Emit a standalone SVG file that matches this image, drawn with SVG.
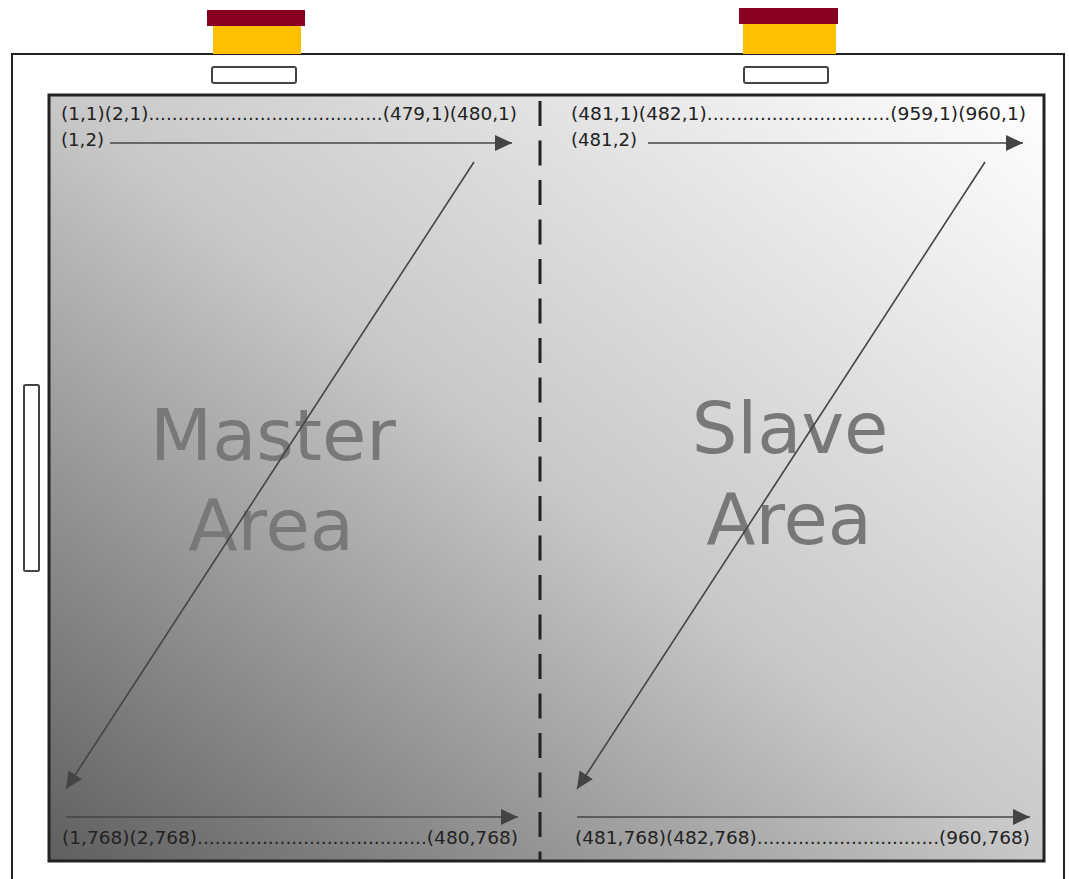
<svg xmlns="http://www.w3.org/2000/svg" width="1069" height="879" viewBox="0 0 1069 879">
<style>
.frame{fill:#ffffff;stroke:#222222;stroke-width:2}
.slot{fill:#ffffff;stroke:#444444;stroke-width:2}
.cap{fill:#880020}
.base{fill:#ffc000}
.lbl{font-family:"DejaVu Sans","Liberation Sans",sans-serif;font-size:17px;fill:#222222}
.big{font-family:"DejaVu Sans","Liberation Sans",sans-serif;font-size:72px;fill:#787878;text-anchor:middle}
.arr{stroke:#444444;stroke-width:1.6;fill:none;marker-end:url(#ah)}
</style>
<defs>
<linearGradient id="g" x1="0" y1="1" x2="1" y2="0">
<stop offset="0" stop-color="#5f5f5f"/>
<stop offset="0.5" stop-color="#c8c8c8"/>
<stop offset="1" stop-color="#ffffff"/>
</linearGradient>
<marker id="ah" markerUnits="userSpaceOnUse" markerWidth="18" markerHeight="16" viewBox="0 0 18 16" refX="17" refY="8" orient="auto">
<path d="M0,0 L17,8 L0,16 Z" fill="#444444"/>
</marker>
</defs>
<g id="device">
<rect class="frame" x="12" y="54" width="1052" height="900"/>
<rect class="slot" x="24" y="385" width="15" height="186" rx="1.5"/>
</g>
<g id="connector-left">
<rect class="cap" x="207" y="10" width="98" height="16"/>
<rect class="base" x="213" y="26" width="88" height="28"/>
<rect class="slot" x="212" y="67" width="84" height="16" rx="2"/>
</g>
<g id="connector-right">
<rect class="cap" x="739" y="8" width="99" height="16"/>
<rect class="base" x="743" y="24" width="93" height="30"/>
<rect class="slot" x="744" y="67" width="84" height="16" rx="2"/>
</g>
<g id="screen">
<rect x="49" y="95" width="995" height="766" fill="url(#g)" stroke="#222222" stroke-width="3"/>
<line x1="540" y1="101" x2="540" y2="861" stroke="#222222" stroke-width="3" stroke-dasharray="25 14.5"/>
</g>
<g id="master-area">
<text class="big" x="273" y="460">Master</text>
<text class="big" x="271" y="550">Area</text>
<text class="lbl" x="61" y="120" textLength="456" lengthAdjust="spacingAndGlyphs">(1,1)(2,1)........................................(479,1)(480,1)</text>
<text class="lbl" x="61" y="146" textLength="43" lengthAdjust="spacingAndGlyphs">(1,2)</text>
<text class="lbl" x="62" y="844" textLength="456" lengthAdjust="spacingAndGlyphs">(1,768)(2,768).......................................(480,768)</text>
</g>
<g id="slave-area">
<text class="big" x="790" y="453">Slave</text>
<text class="big" x="789" y="544">Area</text>
<text class="lbl" x="571" y="120" textLength="455" lengthAdjust="spacingAndGlyphs">(481,1)(482,1)...............................(959,1)(960,1)</text>
<text class="lbl" x="571" y="146" textLength="66" lengthAdjust="spacingAndGlyphs">(481,2)</text>
<text class="lbl" x="575" y="844" textLength="455" lengthAdjust="spacingAndGlyphs">(481,768)(482,768)...............................(960,768)</text>
</g>
<g id="connectors">
<line class="arr" x1="110" y1="143" x2="512" y2="143"/>
<line class="arr" x1="648" y1="143" x2="1023" y2="143"/>
<line class="arr" x1="474" y1="162" x2="66" y2="789"/>
<line class="arr" x1="985" y1="162" x2="577" y2="789"/>
<line class="arr" x1="66" y1="817" x2="518" y2="817"/>
<line class="arr" x1="577" y1="817" x2="1030" y2="817"/>
</g>
</svg>
